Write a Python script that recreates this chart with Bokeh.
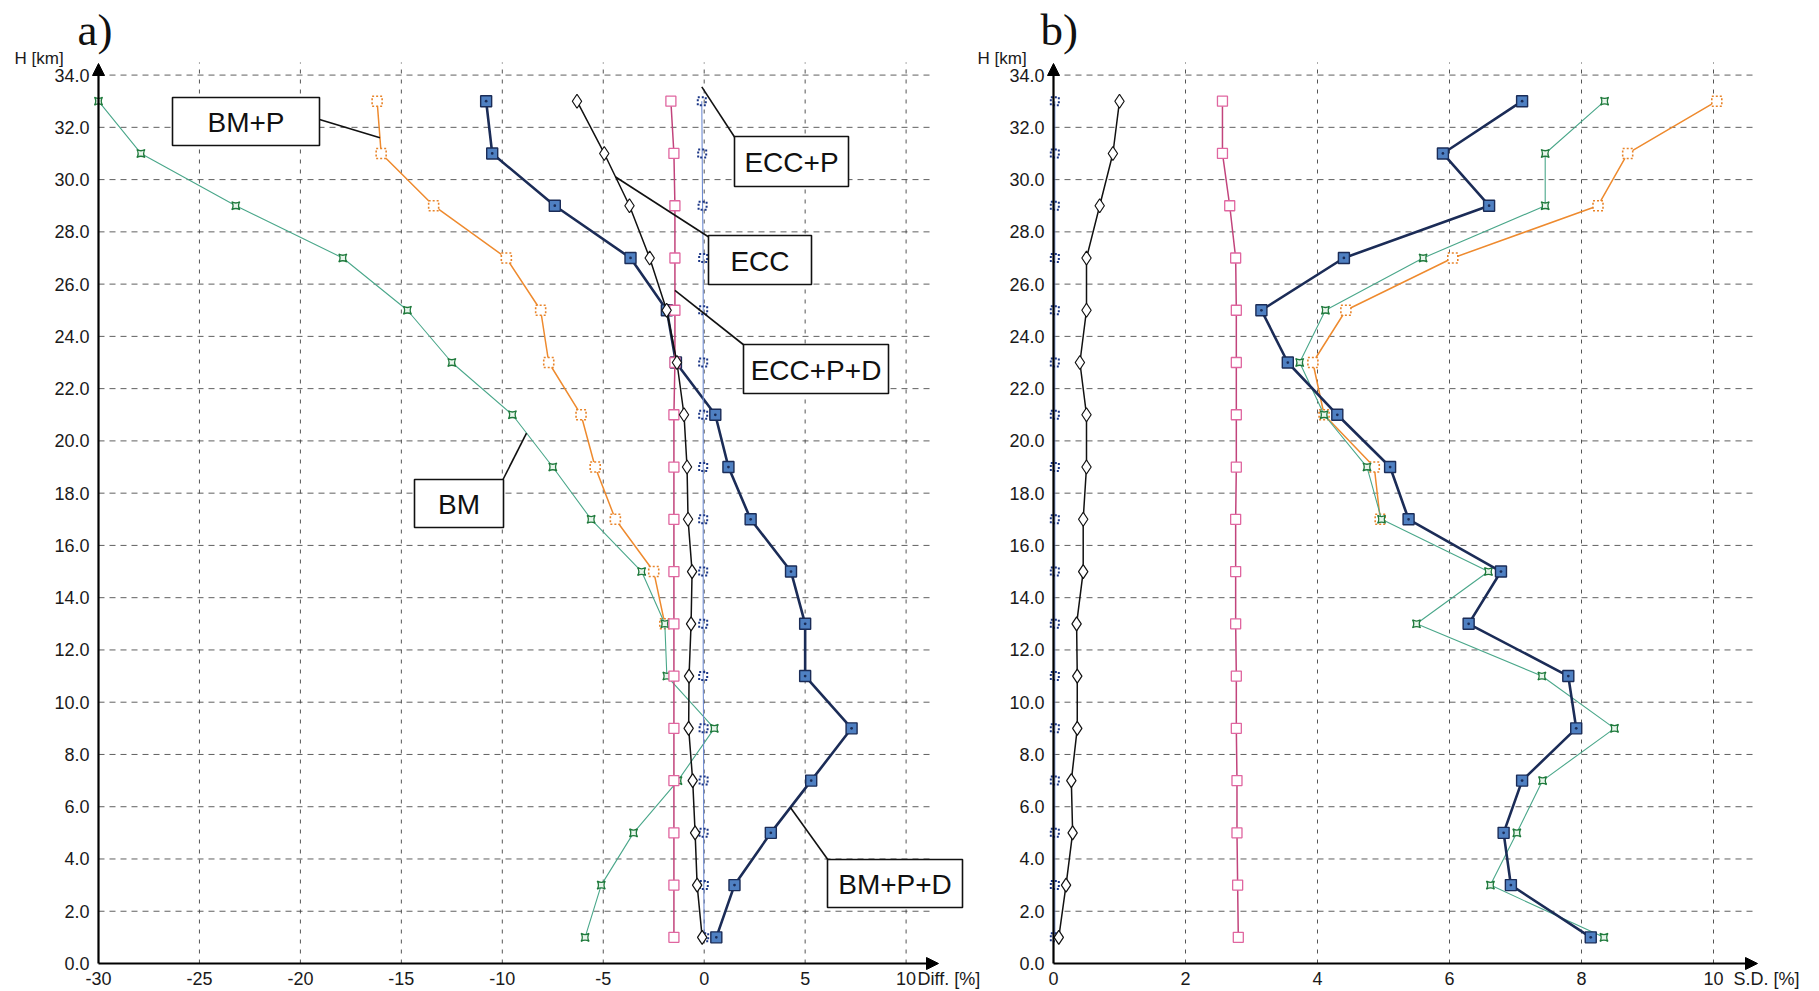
import numpy as np
from bokeh.plotting import figure
from bokeh.models import Arrow, NormalHead, ColumnDataSource, Range1d
from bokeh.core.properties import value
from bokeh.embed import file_html
from bokeh.resources import INLINE

# ---- data -------------------------------------------------------------
heights = [1, 3, 5, 7, 9, 11, 13, 15, 17, 19, 21, 23, 25, 27, 29, 31, 33]

# a) differences [%]
diff_bm = [-5.9, -5.1, -3.5, -1.3, 0.5, -1.85, -1.95, -3.1, -5.6, -7.5, -9.5,
           -12.5, -14.7, -17.9, -23.2, -27.9, -30.0]
heights_bm_p_a = [13, 15, 17, 19, 21, 23, 25, 27, 29, 31, 33]
diff_bm_p = [-1.95, -2.5, -4.4, -5.4, -6.1, -7.7, -8.1, -9.8, -13.4, -16.0, -16.2]
diff_bm_p_d = [0.6, 1.5, 3.3, 5.3, 7.3, 5.0, 5.0, 4.3, 2.3, 1.2, 0.55, -1.4,
               -1.85, -3.65, -7.4, -10.5, -10.8]
diff_ecc = [-0.1, -0.35, -0.45, -0.57, -0.77, -0.75, -0.65, -0.6, -0.8, -0.85,
            -1.0, -1.35, -1.86, -2.7, -3.7, -4.95, -6.3]
diff_ecc_p = [0.0, -0.02, -0.03, -0.03, -0.03, -0.05, -0.05, -0.05, -0.05, -0.05,
              -0.05, -0.05, -0.05, -0.05, -0.08, -0.1, -0.12]
diff_ecc_p_d = [-1.5, -1.5, -1.5, -1.5, -1.5, -1.5, -1.5, -1.5, -1.5, -1.5, -1.5,
                -1.45, -1.45, -1.45, -1.45, -1.5, -1.65]

# b) standard deviations [%]
sd_bm = [8.34, 6.62, 7.02, 7.41, 8.5, 7.4, 5.5, 6.59, 4.97, 4.75, 4.1, 3.73,
         4.12, 5.6, 7.45, 7.45, 8.35]
heights_bm_p_b = [17, 19, 21, 23, 25, 27, 29, 31, 33]
sd_bm_p = [4.95, 4.86, 4.1, 3.93, 4.43, 6.05, 8.25, 8.7, 10.05]
sd_bm_p_d = [8.14, 6.93, 6.82, 7.1, 7.92, 7.8, 6.29, 6.78, 5.38, 5.1, 4.3, 3.55,
             3.15, 4.4, 6.6, 5.9, 7.1]
sd_ecc = [0.08, 0.19, 0.29, 0.27, 0.36, 0.36, 0.35, 0.45, 0.45, 0.5, 0.5, 0.4,
          0.5, 0.5, 0.7, 0.9, 1.0]
sd_ecc_p = [0.02, 0.02, 0.02, 0.02, 0.02, 0.02, 0.02, 0.02, 0.02, 0.02, 0.02,
            0.02, 0.02, 0.02, 0.02, 0.02, 0.02]
sd_ecc_p_d = [2.8, 2.79, 2.78, 2.78, 2.77, 2.77, 2.76, 2.76, 2.76, 2.77, 2.77,
              2.77, 2.77, 2.76, 2.67, 2.56, 2.56]

height_ticks = [0, 2, 4, 6, 8, 10, 12, 14, 16, 18, 20, 22, 24, 26, 28, 30, 32, 34]
diff_ticks = [-30, -25, -20, -15, -10, -5, 0, 5, 10]
sd_ticks = [0, 2, 4, 6, 8, 10]

# ---- page geometry (pixels) -------------------------------------------
PAGE_W, PAGE_H = 1819, 990
Y0_PX = 963            # pixel row of H = 0
Y_SCALE = 26.13        # px per km
A_X0_PX, A_SCALE = 98, 20.19      # pixel column of -30 %, px per %
B_X0_PX, B_SCALE = 1053, 66.0     # pixel column of 0 %, px per %

SANS = "Liberation Sans"
SERIF = "Liberation Serif"
TXT = "#1a1a1a"

STYLES = {
    "BM": dict(line_color="#4aa78a", line_width=1.1, marker="square_pin", size=8,
               m_line="#1f7a3c", m_fill="#e8f5ec", m_dash="solid", m_lw=1.3),
    "BM+P": dict(line_color="#ee8a2e", line_width=1.5, marker="square", size=10,
                 m_line="#e8842a", m_fill="white", m_dash="2 2", m_lw=1.6),
    "BM+P+D": dict(line_color="#1b2c57", line_width=2.6, marker="square_dot", size=11,
                   m_line="#1b2c57", m_fill="#4f80c2", m_dash="solid", m_lw=1.4),
    "ECC": dict(line_color="#111111", line_width=1.5, marker="diamond", size=14,
                m_line="#111111", m_fill="white", m_dash="solid", m_lw=1.2),
    "ECC+P": dict(line_color="#6f8bd0", line_width=1.1, marker="square", size=8,
                  m_line="#1a3585", m_fill=None, m_dash="1.5 2", m_lw=2.0),
    "ECC+P+D": dict(line_color="#c2447c", line_width=1.5, marker="square", size=10,
                    m_line="#e066a0", m_fill="white", m_dash="solid", m_lw=1.3),
}


def dy(py):
    return (Y0_PX - py) / Y_SCALE


p = figure(width=PAGE_W, height=PAGE_H,
           x_range=(-30 - A_X0_PX / A_SCALE, -30 + (PAGE_W - A_X0_PX) / A_SCALE),
           y_range=(dy(PAGE_H), dy(0)),
           output_backend="svg", toolbar_location=None,
           min_border=0, outline_line_color=None)
p.extra_x_ranges = {"b": Range1d(-B_X0_PX / B_SCALE, (PAGE_W - B_X0_PX) / B_SCALE)}
p.axis.visible = False
p.grid.visible = False
p.background_fill_color = "white"
p.border_fill_color = "white"


class Panel:
    """One of the two diagrams drawn on the shared canvas."""

    def __init__(self, x0_px, x0_val, x_scale, range_name):
        self.x0_px, self.x0_val, self.sx = x0_px, x0_val, x_scale
        self.rn = range_name

    def dx(self, px):
        return self.x0_val + (px - self.x0_px) / self.sx

    def text(self, px, py, s, size, align="left", font=SANS, color=TXT):
        p.text(x=[self.dx(px)], y=[dy(py)], text=[s], text_align=align,
               text_baseline="middle", text_font=value(font),
               text_font_size=size, text_color=color, x_range_name=self.rn)

    def frame(self, x_ticks, grid_end_px, arrow_end_px):
        rn = self.rn
        x_axis = x_ticks[0]
        top = dy(62)
        gx = [t for t in x_ticks if t != x_axis]
        p.segment(x0=gx, y0=[0] * len(gx), x1=gx, y1=[top] * len(gx),
                  line_color="#555555", line_dash="4 6", line_width=1,
                  x_range_name=rn)
        gy = [t for t in height_ticks if t != 0]
        xe = self.dx(grid_end_px)
        p.segment(x0=[x_axis] * len(gy), y0=gy, x1=[xe] * len(gy), y1=gy,
                  line_color="#444444", line_dash="6 5", line_width=1,
                  line_alpha=0.85, x_range_name=rn)
        head = dict(size=12, fill_color="black", line_color="black", line_width=1)
        p.add_layout(Arrow(end=NormalHead(**head), x_start=x_axis, y_start=0,
                           x_end=x_axis, y_end=dy(63), line_width=2.2,
                           line_color="black", x_range_name=rn))
        p.add_layout(Arrow(end=NormalHead(**head), x_start=x_axis, y_start=0,
                           x_end=self.dx(arrow_end_px), y_end=0, line_width=2.2,
                           line_color="black", x_range_name=rn))
        # tick labels
        axis_px = self.x0_px + (x_axis - self.x0_val) * self.sx
        lab_x = self.dx(axis_px - 9)
        p.text(x=[lab_x] * len(height_ticks), y=height_ticks,
               text=["%.1f" % t for t in height_ticks], text_align="right",
               text_baseline="middle", text_font=value(SANS),
               text_font_size="18px", text_color=TXT, x_range_name=rn)
        lab_y = dy(Y0_PX + 15)
        p.text(x=x_ticks, y=[lab_y] * len(x_ticks), text=["%g" % t for t in x_ticks],
               text_align="center", text_baseline="middle", text_font=value(SANS),
               text_font_size="18px", text_color=TXT, x_range_name=rn)

    def series(self, name, xs, ys):
        st = STYLES[name]
        src = ColumnDataSource(dict(x=xs, y=ys))
        p.line("x", "y", source=src, line_color=st["line_color"],
               line_width=st["line_width"], x_range_name=self.rn)
        p.scatter("x", "y", source=src, marker=st["marker"], size=st["size"],
                  line_color=st["m_line"], fill_color=st["m_fill"],
                  line_dash=value(st["m_dash"]), line_width=st["m_lw"],
                  x_range_name=self.rn)


# ---- panel a: differences ---------------------------------------------
A = Panel(A_X0_PX, -30, A_SCALE, "default")
A.frame(diff_ticks, 934, 938)

A.series("BM+P+D", diff_bm_p_d, heights)
A.series("BM+P", diff_bm_p, heights_bm_p_a)
A.series("BM", diff_bm, heights)
A.series("ECC+P+D", diff_ecc_p_d, heights)
A.series("ECC+P", diff_ecc_p, heights)
A.series("ECC", diff_ecc, heights)

# callout boxes: name, box (left, top, right, bottom) in px, leader start in px,
# and the height at which the leader meets its series
series_a = {"BM": (diff_bm, heights), "BM+P": (diff_bm_p, heights_bm_p_a),
            "BM+P+D": (diff_bm_p_d, heights), "ECC": (diff_ecc, heights),
            "ECC+P": (diff_ecc_p, heights), "ECC+P+D": (diff_ecc_p_d, heights)}
callouts = [
    ("BM+P", (172, 97, 319, 145), (319, 119), 31.6),
    ("ECC+P", (734, 136, 848, 186), (735, 138), 33.55),
    ("ECC", (708, 235, 811, 284), (709, 237), 30.1),
    ("ECC+P+D", (743, 344, 888, 393), (744, 345), 25.76),
    ("BM", (414, 479, 503, 527), (502, 480), 20.3),
    ("BM+P+D", (827, 859, 962, 907), (828, 860), 5.97),
]
for name, (l, t, r, b), (sx, sy), th in callouts:
    vals, hs = series_a[name]
    tx = float(np.interp(th, hs, vals))
    p.segment(x0=[A.dx(sx)], y0=[dy(sy)], x1=[tx], y1=[th],
              line_color="#111", line_width=1.6)
    p.quad(left=[A.dx(l)], right=[A.dx(r)], top=[dy(t)], bottom=[dy(b)],
           fill_color="white", line_color="#111", line_width=1.6)
    A.text((l + r) / 2, (t + b) / 2 + 1, name, "28px", align="center", color="#111")

A.text(917, 978, "Diff. [%]", "18px")
A.text(77, 29, "a)", "45px", font=SERIF, color="#111")
A.text(14, 58, "H [km]", "17px")

# ---- panel b: standard deviations ---------------------------------------
B = Panel(B_X0_PX, 0, B_SCALE, "b")
B.frame(sd_ticks, 1753, 1757)

B.series("ECC+P", sd_ecc_p, heights)
B.series("ECC", sd_ecc, heights)
B.series("ECC+P+D", sd_ecc_p_d, heights)
B.series("BM+P", sd_bm_p, heights_bm_p_b)
B.series("BM", sd_bm, heights)
B.series("BM+P+D", sd_bm_p_d, heights)

B.text(1733, 978, "S.D. [%]", "18px")
B.text(1040, 29, "b)", "45px", font=SERIF, color="#111")
B.text(977, 58, "H [km]", "17px")

open("out.html", "w").write(file_html(p, INLINE))
